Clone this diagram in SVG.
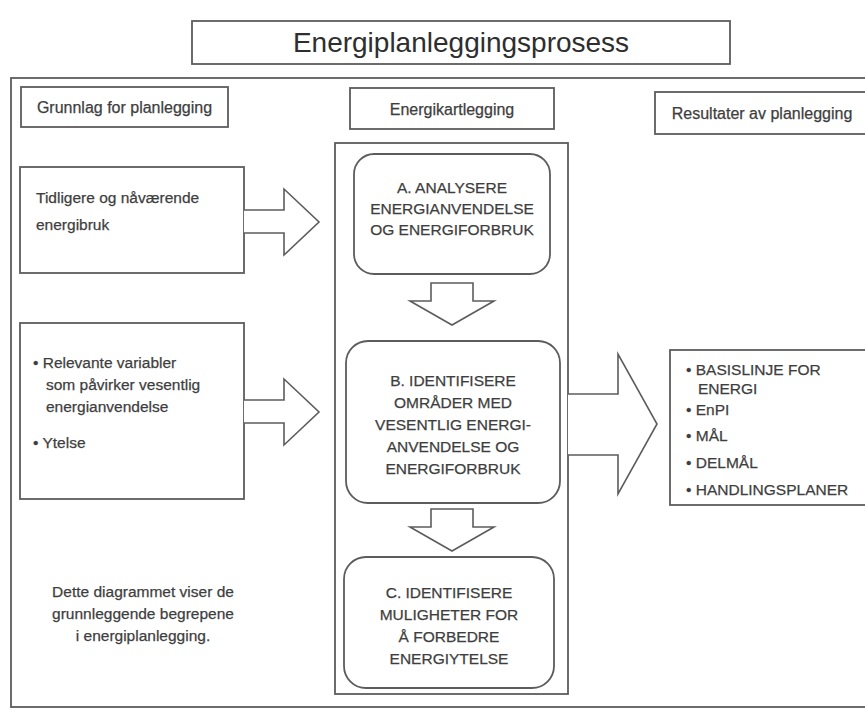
<svg xmlns="http://www.w3.org/2000/svg" width="865" height="713" viewBox="0 0 865 713">
  <style>
    .box { fill: #ffffff; stroke: #5c5c5c; stroke-width: 1.8; }
    .rbox { fill: #ffffff; stroke: #5c5c5c; stroke-width: 1.8; }
    .arrow { fill: #ffffff; stroke: #5c5c5c; stroke-width: 1.6; stroke-linejoin: miter; }
    text { font-family: "Liberation Sans", Arial, sans-serif; fill: #3e3e3e; stroke: #3e3e3e; stroke-width: 0.25; }
    .title { font-size: 28px; text-anchor: middle; fill: #2e2e2e; stroke: none; }
    .head { font-size: 16px; text-anchor: middle; }
    .body { font-size: 15.5px; }
    .caps { font-size: 15.5px; text-anchor: middle; }
    .note { font-size: 15.5px; text-anchor: middle; }
  </style>
  <rect x="0" y="0" width="865" height="713" fill="#ffffff"/>

  <!-- title -->
  <g id="title">
    <rect class="box" x="192" y="21" width="538" height="43"/>
    <text class="title" x="461" y="52">Energiplanleggingsprosess</text>
  </g>

  <!-- outer frame -->
  <g id="frame">
    <rect class="box" x="11" y="78" width="870" height="629"/>
  </g>

  <!-- column headers -->
  <g id="hdr-grunnlag">
    <rect class="box" x="21" y="87" width="207" height="40"/>
    <text class="head" x="124.5" y="113">Grunnlag for planlegging</text>
  </g>
  <g id="hdr-kartlegging">
    <rect class="box" x="350" y="88" width="204" height="41"/>
    <text class="head" x="452" y="115">Energikartlegging</text>
  </g>
  <g id="hdr-resultater">
    <rect class="box" x="655" y="92" width="220" height="42"/>
    <text class="head" x="762" y="119">Resultater av planlegging</text>
  </g>

  <!-- left inputs -->
  <g id="input-energibruk">
    <rect class="box" x="20" y="167" width="224" height="106"/>
    <text class="body" x="36" y="203">Tidligere og nåværende</text>
    <text class="body" x="36" y="230">energibruk</text>
  </g>
  <g id="input-variabler">
    <rect class="box" x="20" y="323" width="224" height="176"/>
    <text class="body" x="33" y="368">• Relevante variabler</text>
    <text class="body" x="46" y="390">som påvirker vesentlig</text>
    <text class="body" x="46" y="412">energianvendelse</text>
    <text class="body" x="33" y="448">• Ytelse</text>
  </g>

  <!-- energy review column -->
  <g id="review">
    <rect class="box" x="335" y="143" width="233" height="551"/>
  </g>
  <g id="step-a">
    <rect class="rbox" x="354" y="154" width="196" height="120" rx="20" ry="20"/>
    <text class="caps" x="452" y="193">A. ANALYSERE</text>
    <text class="caps" x="452" y="214">ENERGIANVENDELSE</text>
    <text class="caps" x="452" y="235">OG ENERGIFORBRUK</text>
  </g>
  <g id="step-b">
    <rect class="rbox" x="346" y="341" width="214" height="162" rx="22" ry="22"/>
    <text class="caps" x="453" y="386">B. IDENTIFISERE</text>
    <text class="caps" x="453" y="408">OMRÅDER MED</text>
    <text class="caps" x="453" y="430">VESENTLIG ENERGI-</text>
    <text class="caps" x="453" y="452">ANVENDELSE OG</text>
    <text class="caps" x="453" y="474">ENERGIFORBRUK</text>
  </g>
  <g id="step-c">
    <rect class="rbox" x="344" y="557" width="210" height="131" rx="22" ry="22"/>
    <text class="caps" x="449" y="598">C. IDENTIFISERE</text>
    <text class="caps" x="449" y="620">MULIGHETER FOR</text>
    <text class="caps" x="449" y="642">Å FORBEDRE</text>
    <text class="caps" x="449" y="664">ENERGIYTELSE</text>
  </g>

  <!-- results -->
  <g id="results">
    <rect class="box" x="670" y="350" width="210" height="155"/>
    <text class="body" x="686" y="375">• BASISLINJE FOR</text>
    <text class="body" x="698" y="394">ENERGI</text>
    <text class="body" x="686" y="415">• EnPI</text>
    <text class="body" x="686" y="441">• MÅL</text>
    <text class="body" x="686" y="468">• DELMÅL</text>
    <text class="body" x="686" y="495">• HANDLINGSPLANER</text>
  </g>

  <!-- block arrows -->
  <g id="connectors">
    <polyline class="arrow" points="244,210 284,210 284,189 319,222 284,255 284,233 244,233"/>
    <polyline class="arrow" points="244,400 284,400 284,379 319,412 284,445 284,423 244,423"/>
    <polyline class="arrow" points="568,394 618,394 618,354 657,424 618,494 618,455 568,455"/>
    <polygon class="arrow" points="431,283 473,283 473,301 494,301 452,325 410,301 431,301"/>
    <polygon class="arrow" points="431,509 473,509 473,527 494,527 452,551 410,527 431,527"/>
  </g>

  <!-- caption -->
  <g id="caption">
    <text class="note" x="143" y="597">Dette diagrammet viser de</text>
    <text class="note" x="143" y="619">grunnleggende begrepene</text>
    <text class="note" x="143" y="641">i energiplanlegging.</text>
  </g>
</svg>
